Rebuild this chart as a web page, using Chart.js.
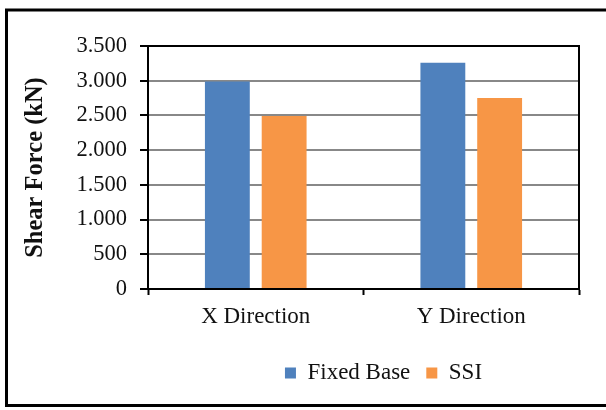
<!DOCTYPE html>
<html>
<head>
<meta charset="utf-8">
<script src="https://cdn.jsdelivr.net/npm/chart.js@4/dist/chart.umd.min.js"></script>
<style>
  html, body { margin: 0; padding: 0; background: #fff; }
  #wrap { width: 606px; height: 410px; }
</style>
</head>
<body>
<div id="wrap"><canvas id="c" width="606" height="410"></canvas></div>
<script>
// Base shear force per direction (kN)
const categories = ['X Direction', 'Y Direction'];
const fixedBase = [2990, 3260];
const ssi = [2490, 2750];
const seriesNames = ['Fixed Base', 'SSI'];
const yTicks = [0, 500, 1000, 1500, 2000, 2500, 3000, 3500];

const SERIF = '"Liberation Serif", "Times New Roman", serif';

// "3500" -> "3.500"
function groupThousands(v) {
  return String(v).replace(/\B(?=(\d{3})+(?!\d))/g, '.');
}

// Outer frame of the figure and black box around the plot area
const framePlugin = {
  id: 'frame',
  beforeDraw(chart) {
    const ctx = chart.ctx;
    ctx.save();
    ctx.fillStyle = '#fff';
    ctx.fillRect(0, 0, chart.width, chart.height);
    ctx.strokeStyle = '#000';
    ctx.lineWidth = 3;
    ctx.strokeRect(6.5, 10, chart.width + 20, chart.height - 14.5);
    ctx.restore();
  },
  afterDraw(chart) {
    const a = chart.chartArea;
    const ctx = chart.ctx;
    ctx.save();
    ctx.strokeStyle = '#000';
    ctx.lineWidth = 2;
    ctx.beginPath();
    ctx.moveTo(a.left, a.top);
    ctx.lineTo(a.right, a.top);
    ctx.lineTo(a.right, a.bottom);
    ctx.stroke();
    ctx.restore();
  }
};

// Nudge the legend row to the right under the plot
const legendShift = {
  id: 'legendShift',
  afterLayout(chart) {
    if (chart.legend) {
      chart.legend.left += 20;
      chart.legend.right += 20;
    }
  }
};

new Chart(document.getElementById('c'), {
  type: 'bar',
  data: {
    labels: categories,
    datasets: [
      { label: seriesNames[0], data: fixedBase, backgroundColor: '#4f81bd', borderWidth: 0 },
      { label: seriesNames[1], data: ssi, backgroundColor: '#f79646', borderWidth: 0 }
    ]
  },
  options: {
    responsive: false,
    animation: false,
    devicePixelRatio: 1,
    categoryPercentage: 0.527,
    barPercentage: 0.79,
    layout: { padding: { left: 0, right: 27, top: 46, bottom: 15.5 } },
    plugins: {
      tooltip: { enabled: false },
      legend: {
        position: 'bottom',
        fullSize: false,
        labels: {
          font: { family: SERIF, size: 23 },
          color: '#111',
          boxWidth: 11,
          boxHeight: 11,
          padding: 16
        }
      }
    },
    scales: {
      x: {
        afterFit(scale) { scale.height = 56.5; },
        grid: {
          display: true,
          drawOnChartArea: false,
          drawTicks: true,
          tickLength: 6,
          tickColor: '#000',
          tickWidth: 2,
          offset: true
        },
        border: { display: true, color: '#000', width: 2 },
        ticks: {
          font: { family: SERIF, size: 23 },
          color: '#111',
          padding: 8,
          maxRotation: 0
        }
      },
      y: {
        min: 0,
        max: 3500,
        afterFit(scale) { scale.width = 148; },
        afterBuildTicks(scale) { scale.ticks = yTicks.map(v => ({ value: v })); },
        grid: {
          color: '#888',
          lineWidth: 2,
          drawTicks: true,
          tickLength: 8,
          tickColor: '#000',
          tickWidth: 2
        },
        border: { display: true, color: '#000', width: 2 },
        ticks: {
          font: { family: SERIF, size: 22.5 },
          color: '#111',
          padding: 13,
          callback: (v) => groupThousands(v)
        },
        title: {
          display: true,
          text: 'Shear Force (kN)',
          font: { family: SERIF, size: 24.5, weight: 'bold' },
          color: '#111',
          padding: { top: 21, bottom: 0 }
        }
      }
    }
  },
  plugins: [framePlugin, legendShift]
});
</script>
</body>
</html>
